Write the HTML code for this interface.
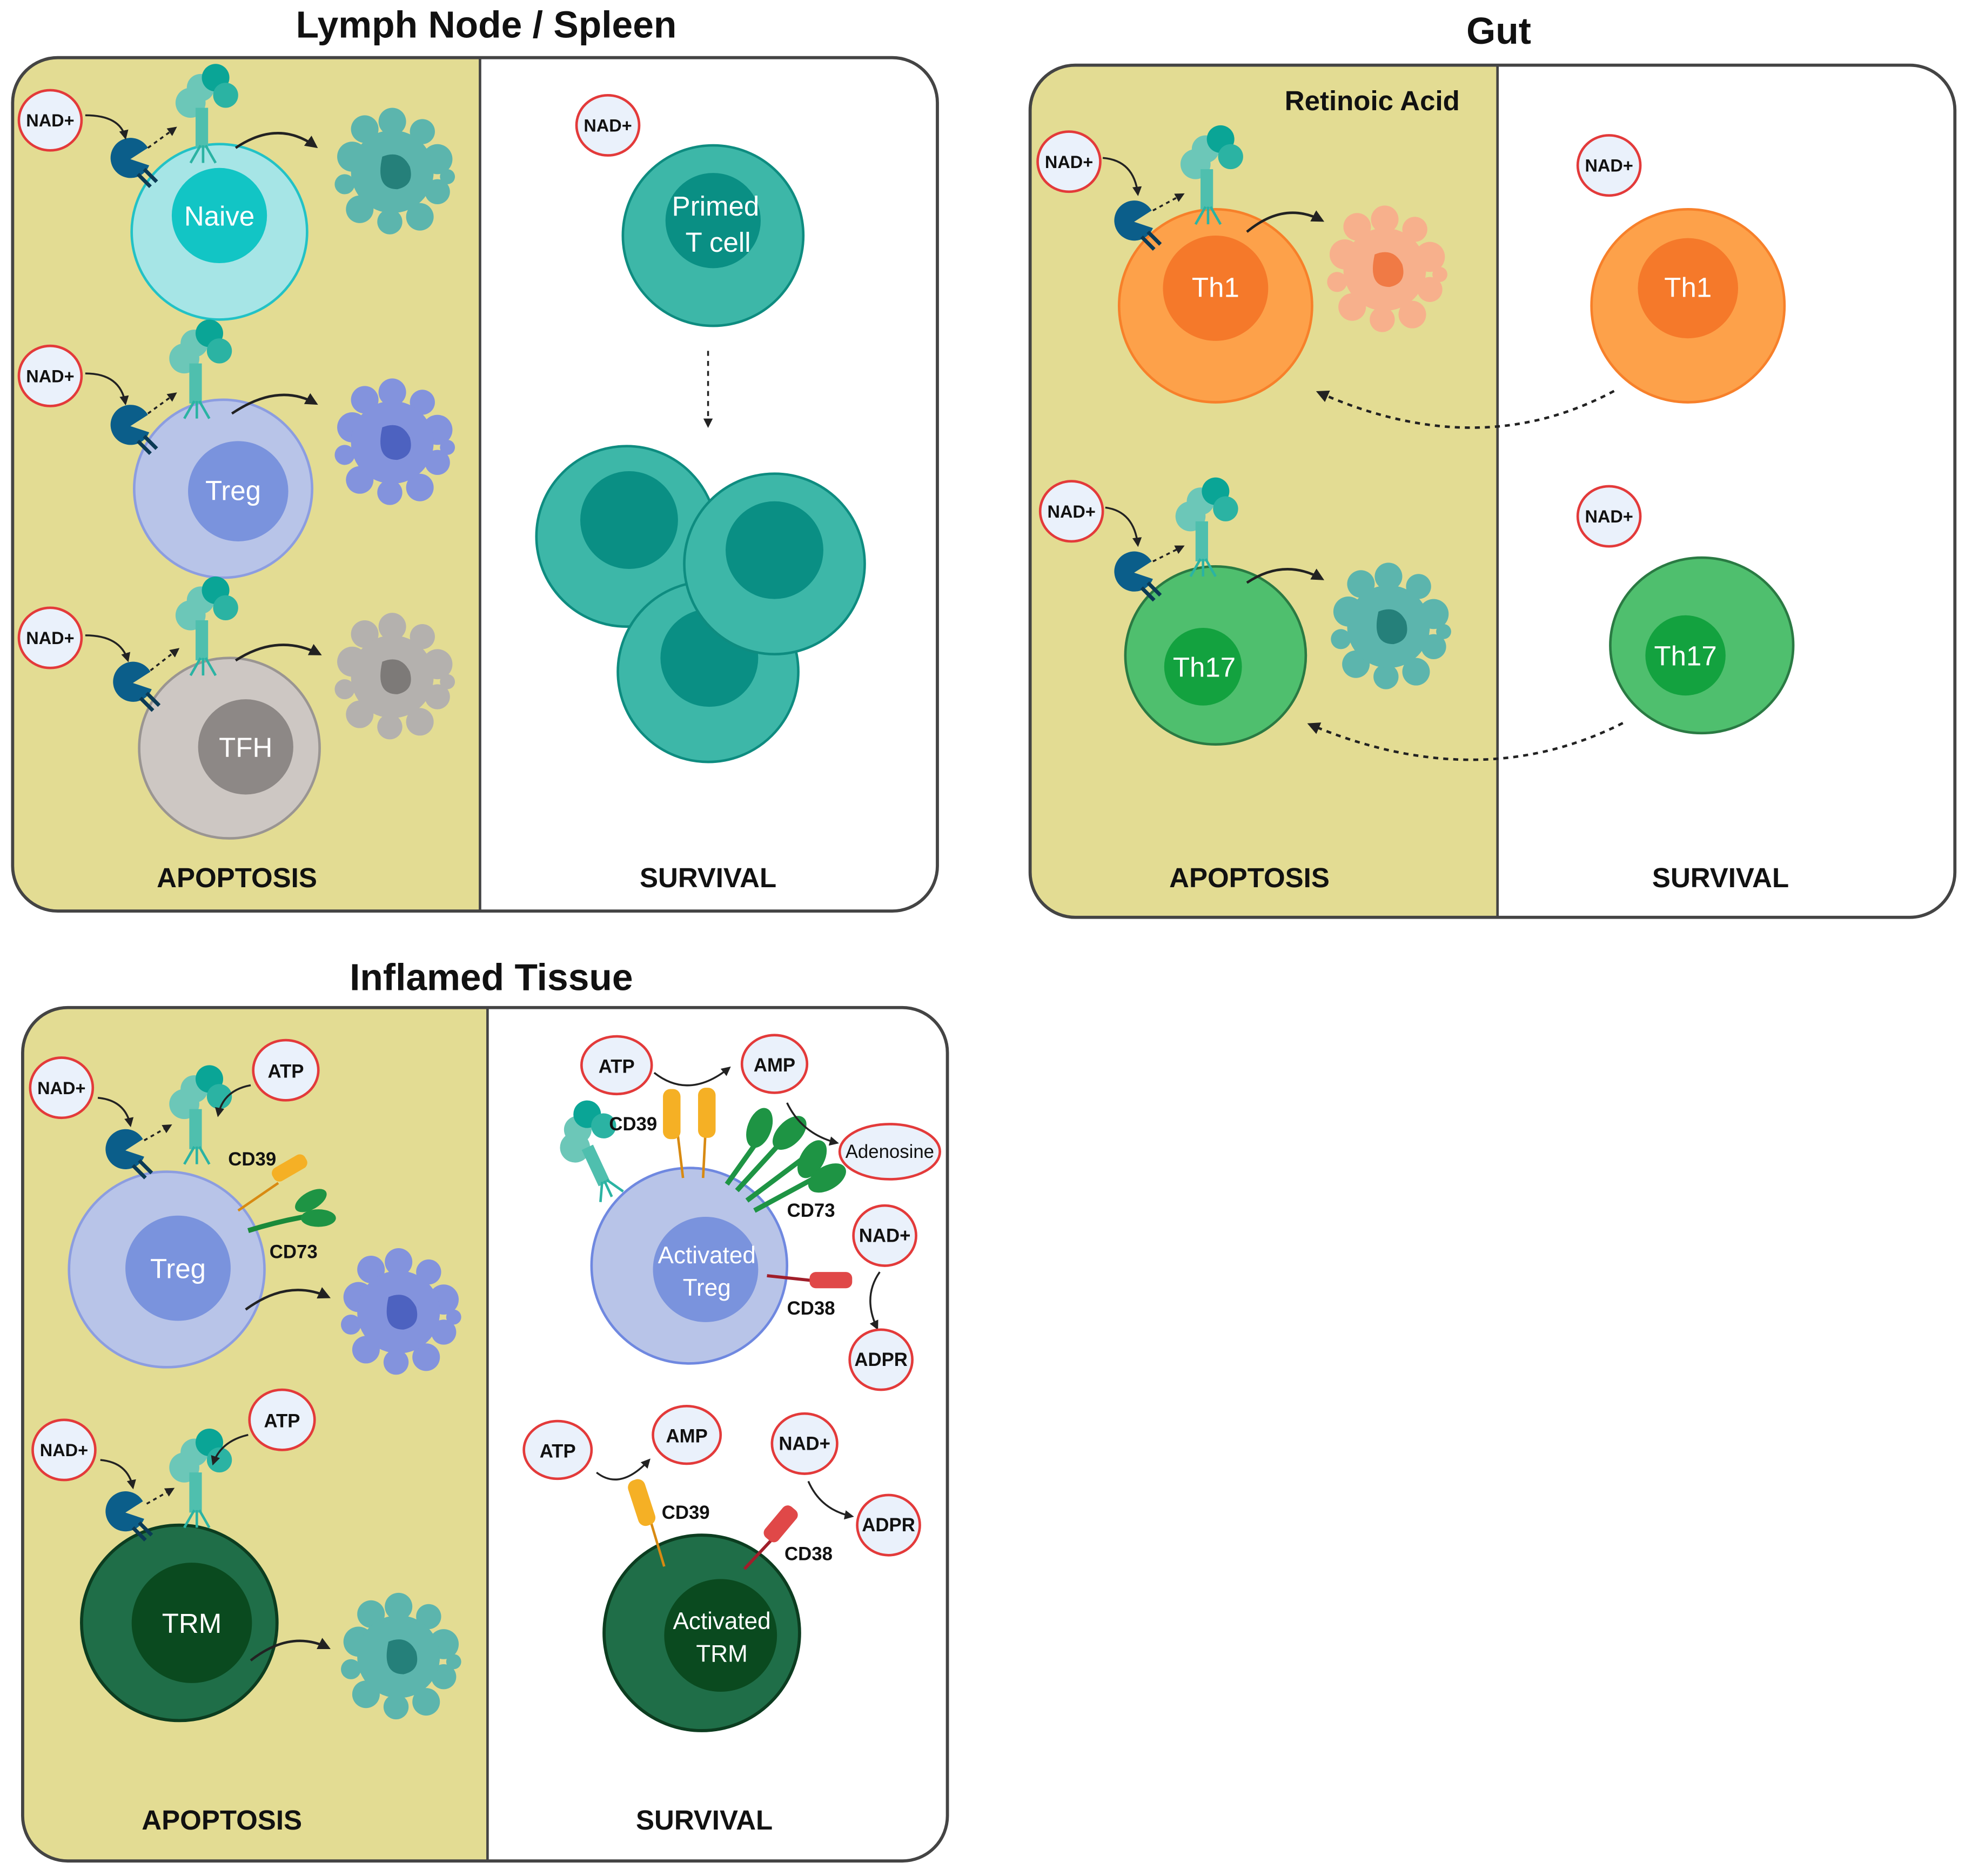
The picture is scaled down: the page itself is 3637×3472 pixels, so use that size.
<!DOCTYPE html>
<html><head><meta charset="utf-8">
<style>
html,body{margin:0;padding:0;background:#fff;}
svg{display:block;}
text{font-family:"Liberation Sans",sans-serif;}
.t{font-weight:bold;font-size:30px;text-anchor:middle;fill:#111;}
.lab{font-weight:bold;font-size:22px;text-anchor:middle;fill:#111;}
.cl{font-size:22px;text-anchor:middle;fill:#fff;}
.bt{font-weight:bold;font-size:14px;text-anchor:middle;fill:#111;}
.cd{font-weight:bold;font-size:15px;fill:#111;}
</style></head>
<body>
<svg width="3637" height="3472" viewBox="0 0 1568 1497" xmlns="http://www.w3.org/2000/svg">
<defs>
<marker id="ah" viewBox="0 0 10 10" refX="8" refY="5" markerWidth="5" markerHeight="5" orient="auto"><path d="M0,0 L10,5 L0,10 Z" fill="#222"/></marker>
<clipPath id="c1"><rect x="10" y="46" width="738" height="681" rx="36"/></clipPath>
<clipPath id="c2"><rect x="822" y="52" width="738" height="680" rx="36"/></clipPath>
<clipPath id="c3"><rect x="18" y="804" width="738" height="681" rx="36"/></clipPath>
<g id="rec">
  <circle cx="0" cy="-26" r="11" fill="#6cc7b8"/>
  <circle cx="12" cy="-34" r="11" fill="#0aa596"/>
  <circle cx="-8" cy="-14" r="12" fill="#6cc7b8"/>
  <circle cx="20" cy="-20" r="10" fill="#2bb3a3"/>
  <path d="M-4,-10 L6,-10 L6,22 L-4,22 Z" fill="#4fbfae"/>
  <path d="M0,20 L-8,34 M2,20 L2,34 M4,20 L12,34" stroke="#2bb3a3" stroke-width="2" fill="none"/>
</g>
<g id="pac">
  <path d="M0,0 L14,-9 A16,16 0 1 0 15,5 Z" fill="#0b5e8a"/>
  <path d="M6,12 L16,22 M11,8 L21,18" stroke="#0b3a55" stroke-width="3"/>
</g>
<g id="blob">
  <circle cx="-32" cy="-12" r="12"/><circle cx="-22" cy="-34" r="11"/><circle cx="0" cy="-40" r="11"/>
  <circle cx="24" cy="-32" r="10"/><circle cx="36" cy="-10" r="12"/><circle cx="36" cy="16" r="10"/>
  <circle cx="22" cy="36" r="11"/><circle cx="-2" cy="40" r="10"/><circle cx="-26" cy="30" r="11"/>
  <circle cx="-38" cy="10" r="8"/><circle cx="44" cy="4" r="6"/>
  <circle cx="0" cy="0" r="33"/>
</g>
</defs>

<!-- Panel 1 -->
<text class="t" x="388" y="30">Lymph Node / Spleen</text>
<g clip-path="url(#c1)"><rect x="10" y="46" width="738" height="681" fill="#fff"/><rect x="10" y="46" width="373" height="681" fill="#e3dc93"/></g>
<line x1="383" y1="46" x2="383" y2="727" stroke="#444" stroke-width="2"/>
<rect x="10" y="46" width="738" height="681" rx="36" fill="none" stroke="#444" stroke-width="2.5"/>
<text class="lab" x="189" y="708">APOPTOSIS</text>
<text class="lab" x="565" y="708">SURVIVAL</text>

<circle cx="175" cy="185" r="70" fill="#a6e5e6" stroke="#22c2c6" stroke-width="2"/>
<circle cx="175" cy="172" r="38" fill="#12c5c5"/><text class="cl" x="175" y="180">Naive</text>
<circle cx="178" cy="390" r="71" fill="#b8c4e8" stroke="#8c9de0" stroke-width="2"/>
<circle cx="190" cy="392" r="40" fill="#7a93dd"/><text class="cl" x="186" y="399">Treg</text>
<circle cx="183" cy="597" r="72" fill="#cdc7c3" stroke="#9a9592" stroke-width="2"/>
<circle cx="196" cy="596" r="38" fill="#8d8886"/><text class="cl" x="196" y="604">TFH</text>

<g fill="#5cb5ad"><use href="#blob" transform="translate(313,137)"/></g><path d="M305,125 q15,-6 22,8 q4,15 -10,18 q-18,0 -12,-26Z" fill="#25807a"/>
<g fill="#8393dd"><use href="#blob" transform="translate(313,353)"/></g><path d="M305,341 q15,-6 22,8 q4,15 -10,18 q-18,0 -12,-26Z" fill="#4d62c0"/>
<g fill="#b4b1ae"><use href="#blob" transform="translate(313,540)"/></g><path d="M305,528 q15,-6 22,8 q4,15 -10,18 q-18,0 -12,-26Z" fill="#7d7a78"/>

<!-- activation motifs panel1 -->
<g>
<use href="#pac" transform="translate(104,127)"/><use href="#rec" transform="translate(160,96)"/>
<path d="M68,92 Q96,92 100,110" fill="none" stroke="#222" stroke-width="1.5" marker-end="url(#ah)"/>
<path d="M118,118 L140,102" stroke="#222" stroke-width="1.5" stroke-dasharray="3,3" marker-end="url(#ah)"/>
<path d="M188,118 Q222,95 252,117" fill="none" stroke="#222" stroke-width="2" marker-end="url(#ah)"/>
</g>
<g>
<use href="#pac" transform="translate(104,340)"/><use href="#rec" transform="translate(155,300)"/>
<path d="M68,298 Q96,298 100,322" fill="none" stroke="#222" stroke-width="1.5" marker-end="url(#ah)"/>
<path d="M118,330 L140,314" stroke="#222" stroke-width="1.5" stroke-dasharray="3,3" marker-end="url(#ah)"/>
<path d="M185,330 Q222,305 252,322" fill="none" stroke="#222" stroke-width="2" marker-end="url(#ah)"/>
</g>
<g>
<use href="#pac" transform="translate(106,545)"/><use href="#rec" transform="translate(160,505)"/>
<path d="M68,507 Q96,507 102,527" fill="none" stroke="#222" stroke-width="1.5" marker-end="url(#ah)"/>
<path d="M120,535 L142,518" stroke="#222" stroke-width="1.5" stroke-dasharray="3,3" marker-end="url(#ah)"/>
<path d="M188,527 Q222,505 255,522" fill="none" stroke="#222" stroke-width="2" marker-end="url(#ah)"/>
</g>

<circle cx="569" cy="188" r="72" fill="#3db7a8" stroke="#0e8c80" stroke-width="2"/>
<circle cx="569" cy="176" r="38" fill="#0a8f84"/>
<text class="cl" x="571" y="172">Primed</text><text class="cl" x="573" y="201">T cell</text>
<path d="M565,280 L565,340" stroke="#222" stroke-width="1.5" stroke-dasharray="4,4" marker-end="url(#ah)"/>
<circle cx="500" cy="428" r="72" fill="#3db7a8" stroke="#0e8c80" stroke-width="2"/><circle cx="502" cy="415" r="39" fill="#0a8f84"/>
<circle cx="565" cy="536" r="72" fill="#3db7a8" stroke="#0e8c80" stroke-width="2"/><circle cx="566" cy="525" r="39" fill="#0a8f84"/>
<circle cx="618" cy="450" r="72" fill="#3db7a8" stroke="#0e8c80" stroke-width="2"/><circle cx="618" cy="439" r="39" fill="#0a8f84"/>

<!-- Panel 2 -->
<text class="t" x="1196" y="35">Gut</text>
<g clip-path="url(#c2)"><rect x="822" y="52" width="738" height="680" fill="#fff"/><rect x="822" y="52" width="373" height="680" fill="#e3dc93"/></g>
<line x1="1195" y1="52" x2="1195" y2="732" stroke="#444" stroke-width="2"/>
<rect x="822" y="52" width="738" height="680" rx="36" fill="none" stroke="#444" stroke-width="2.5"/>
<text class="lab" x="1095" y="88">Retinoic Acid</text>
<text class="lab" x="997" y="708">APOPTOSIS</text>
<text class="lab" x="1373" y="708">SURVIVAL</text>

<circle cx="970" cy="244" r="77" fill="#fda14a" stroke="#f7802a" stroke-width="2"/><circle cx="970" cy="230" r="42" fill="#f5792a"/><text class="cl" x="970" y="237">Th1</text>
<circle cx="1347" cy="244" r="77" fill="#fda14a" stroke="#f7802a" stroke-width="2"/><circle cx="1347" cy="230" r="40" fill="#f5792a"/><text class="cl" x="1347" y="237">Th1</text>
<ellipse cx="970" cy="523" rx="72" ry="71" fill="#4fbf6e" stroke="#2a7a43" stroke-width="2"/><circle cx="960" cy="532" r="31" fill="#13a23f"/><text class="cl" x="961" y="540">Th17</text>
<ellipse cx="1358" cy="515" rx="73" ry="70" fill="#4fbf6e" stroke="#2a7a43" stroke-width="2"/><circle cx="1345" cy="523" r="32" fill="#13a23f"/><text class="cl" x="1345" y="531">Th17</text>

<g fill="#f7b08c"><use href="#blob" transform="translate(1105,215)"/></g><path d="M1097,203 q15,-6 22,8 q4,15 -10,18 q-18,0 -12,-26Z" fill="#f07a45"/>
<g fill="#5cb5ad"><use href="#blob" transform="translate(1108,500)"/></g><path d="M1100,488 q15,-6 22,8 q4,15 -10,18 q-18,0 -12,-26Z" fill="#25807a"/>

<g>
<use href="#pac" transform="translate(905,177)"/><use href="#rec" transform="translate(962,145)"/>
<path d="M880,126 Q905,128 908,155" fill="none" stroke="#222" stroke-width="1.5" marker-end="url(#ah)"/>
<path d="M920,168 L944,155" stroke="#222" stroke-width="1.5" stroke-dasharray="3,3" marker-end="url(#ah)"/>
<path d="M995,185 Q1025,160 1055,176" fill="none" stroke="#222" stroke-width="2" marker-end="url(#ah)"/>
</g>
<g>
<use href="#pac" transform="translate(905,457)"/><use href="#rec" transform="translate(958,426)"/>
<path d="M882,405 Q905,408 908,435" fill="none" stroke="#222" stroke-width="1.5" marker-end="url(#ah)"/>
<path d="M920,448 L944,436" stroke="#222" stroke-width="1.5" stroke-dasharray="3,3" marker-end="url(#ah)"/>
<path d="M995,465 Q1025,445 1055,462" fill="none" stroke="#222" stroke-width="2" marker-end="url(#ah)"/>
</g>
<path d="M1288,312 Q1180,370 1052,313" fill="none" stroke="#222" stroke-width="2" stroke-dasharray="4,4" marker-end="url(#ah)"/>
<path d="M1295,577 Q1180,635 1045,578" fill="none" stroke="#222" stroke-width="2" stroke-dasharray="4,4" marker-end="url(#ah)"/>

<!-- Panel 3 -->
<text class="t" x="392" y="790">Inflamed Tissue</text>
<g clip-path="url(#c3)"><rect x="18" y="804" width="738" height="681" fill="#fff"/><rect x="18" y="804" width="371" height="681" fill="#e3dc93"/></g>
<line x1="389" y1="804" x2="389" y2="1485" stroke="#444" stroke-width="2"/>
<rect x="18" y="804" width="738" height="681" rx="36" fill="none" stroke="#444" stroke-width="2.5"/>
<text class="lab" x="177" y="1460">APOPTOSIS</text>
<text class="lab" x="562" y="1460">SURVIVAL</text>

<circle cx="133" cy="1013" r="78" fill="#b8c4e8" stroke="#8c9de0" stroke-width="2"/><circle cx="142" cy="1012" r="42" fill="#7a93dd"/><text class="cl" x="142" y="1020">Treg</text>
<circle cx="143" cy="1295" r="78" fill="#1f6e48" stroke="#0c3d20" stroke-width="2.5"/><circle cx="153" cy="1295" r="48" fill="#0a4a1f"/><text class="cl" x="153" y="1303">TRM</text>
<g fill="#8393dd"><use href="#blob" transform="translate(318,1047)"/></g><path d="M310,1035 q15,-6 22,8 q4,15 -10,18 q-18,0 -12,-26Z" fill="#4d62c0"/>
<g fill="#5cb5ad"><use href="#blob" transform="translate(318,1322)"/></g><path d="M310,1310 q15,-6 22,8 q4,15 -10,18 q-18,0 -12,-26Z" fill="#25807a"/>

<g>
<use href="#pac" transform="translate(100,918)"/><use href="#rec" transform="translate(155,895)"/>
<path d="M78,876 Q100,878 104,898" fill="none" stroke="#222" stroke-width="1.5" marker-end="url(#ah)"/>
<path d="M115,910 L136,898" stroke="#222" stroke-width="1.5" stroke-dasharray="3,3" marker-end="url(#ah)"/>
<path d="M200,866 Q178,870 174,890" fill="none" stroke="#222" stroke-width="1.5" marker-end="url(#ah)"/>
<path d="M190,966 L222,944" stroke="#d88a12" stroke-width="2"/><rect x="216" y="926" width="30" height="12" rx="5" fill="#f5b025" transform="rotate(-30 231 932)"/>
<path d="M198,982 Q230,972 262,968" stroke="#1a8a3a" stroke-width="4" fill="none"/><ellipse cx="248" cy="958" rx="14" ry="7" fill="#1e9444" transform="rotate(-30 248 958)"/><ellipse cx="254" cy="972" rx="14" ry="7" fill="#1e9444"/>
<text class="cd" x="182" y="930">CD39</text><text class="cd" x="215" y="1004">CD73</text>
<path d="M196,1045 Q230,1020 262,1035" fill="none" stroke="#222" stroke-width="2" marker-end="url(#ah)"/>
</g>
<g>
<use href="#pac" transform="translate(100,1207)"/><use href="#rec" transform="translate(155,1185)"/>
<path d="M80,1165 Q102,1167 106,1187" fill="none" stroke="#222" stroke-width="1.5" marker-end="url(#ah)"/>
<path d="M117,1200 L138,1188" stroke="#222" stroke-width="1.5" stroke-dasharray="3,3" marker-end="url(#ah)"/>
<path d="M198,1145 Q176,1150 170,1168" fill="none" stroke="#222" stroke-width="1.5" marker-end="url(#ah)"/>
<path d="M200,1325 Q232,1300 262,1315" fill="none" stroke="#222" stroke-width="2" marker-end="url(#ah)"/>
</g>

<!-- Activated Treg -->
<circle cx="550" cy="1010" r="78" fill="#b8c4e8" stroke="#6f88e0" stroke-width="2"/><circle cx="563" cy="1013" r="42" fill="#7a93dd"/>
<text class="cl" x="564" y="1008" style="font-size:19px">Activated</text><text class="cl" x="564" y="1034" style="font-size:19px">Treg</text>
<use href="#rec" transform="translate(472,925) rotate(-25)"/>
<line x1="545" y1="940" x2="538" y2="882" stroke="#d88a12" stroke-width="2"/><rect x="529" y="869" width="14" height="40" rx="6" fill="#f5b025"/>
<line x1="561" y1="940" x2="564" y2="882" stroke="#d88a12" stroke-width="2"/><rect x="557" y="868" width="14" height="40" rx="6" fill="#f5b025"/>
<g fill="#1e9444" stroke="#1e9444">
<line x1="580" y1="945" x2="612" y2="900" stroke-width="4"/><ellipse cx="606" cy="900" rx="9" ry="16" transform="rotate(20 606 900)"/>
<line x1="588" y1="950" x2="620" y2="915" stroke-width="4"/><ellipse cx="630" cy="904" rx="9" ry="16" transform="rotate(45 630 904)"/>
<line x1="596" y1="958" x2="640" y2="925" stroke-width="4"/><ellipse cx="648" cy="925" rx="9" ry="16" transform="rotate(30 648 925)"/>
<line x1="602" y1="966" x2="650" y2="940" stroke-width="4"/><ellipse cx="660" cy="940" rx="9" ry="16" transform="rotate(60 660 940)"/>
</g>
<line x1="612" y1="1018" x2="650" y2="1022" stroke="#a01e2a" stroke-width="2.5"/><rect x="646" y="1015" width="34" height="13" rx="5" fill="#e04848"/>
<text class="cd" x="486" y="902">CD39</text><text class="cd" x="628" y="971">CD73</text><text class="cd" x="628" y="1049">CD38</text>
<path d="M522,856 Q550,878 582,852" fill="none" stroke="#222" stroke-width="1.5" marker-end="url(#ah)"/>
<path d="M628,880 Q640,905 668,912" fill="none" stroke="#222" stroke-width="1.5" marker-end="url(#ah)"/>
<path d="M702,1015 Q688,1035 700,1060" fill="none" stroke="#222" stroke-width="1.5" marker-end="url(#ah)"/>

<!-- Activated TRM -->
<circle cx="560" cy="1303" r="78" fill="#1f6e48" stroke="#0c3d20" stroke-width="2.5"/><circle cx="575" cy="1305" r="45" fill="#0a4a1f"/>
<text class="cl" x="576" y="1300" style="font-size:19px">Activated</text><text class="cl" x="576" y="1326" style="font-size:19px">TRM</text>
<line x1="530" y1="1250" x2="515" y2="1200" stroke="#d88a12" stroke-width="2"/><rect x="505" y="1180" width="14" height="38" rx="6" fill="#f5b025" transform="rotate(-18 512 1199)"/>
<line x1="594" y1="1252" x2="622" y2="1222" stroke="#a01e2a" stroke-width="2.5"/><rect x="616" y="1200" width="14" height="32" rx="5" fill="#e04848" transform="rotate(40 623 1216)"/>
<text class="cd" x="528" y="1212">CD39</text><text class="cd" x="626" y="1245">CD38</text>
<path d="M476,1175 Q495,1190 518,1165" fill="none" stroke="#222" stroke-width="1.5" marker-end="url(#ah)"/>
<path d="M645,1182 Q655,1205 680,1210" fill="none" stroke="#222" stroke-width="1.5" marker-end="url(#ah)"/>

<!-- badges -->
<g fill="#eaf1fb" stroke="#e33a3a" stroke-width="2">
<ellipse cx="40" cy="96" rx="25" ry="24"/><ellipse cx="40" cy="300" rx="25" ry="24"/><ellipse cx="40" cy="509" rx="25" ry="24"/>
<ellipse cx="485" cy="100" rx="25" ry="24"/>
<ellipse cx="853" cy="129" rx="25" ry="24"/><ellipse cx="855" cy="408" rx="25" ry="24"/>
<ellipse cx="1284" cy="132" rx="25" ry="24"/><ellipse cx="1284" cy="412" rx="25" ry="24"/>
<ellipse cx="49" cy="868" rx="25" ry="24"/><ellipse cx="228" cy="854" rx="26" ry="24"/>
<ellipse cx="51" cy="1157" rx="25" ry="24"/><ellipse cx="225" cy="1133" rx="26" ry="24"/>
<ellipse cx="492" cy="850" rx="28" ry="23"/><ellipse cx="618" cy="849" rx="26" ry="23"/>
<ellipse cx="710" cy="919" rx="40" ry="22"/><ellipse cx="706" cy="986" rx="25" ry="24"/><ellipse cx="703" cy="1085" rx="25" ry="24"/>
<ellipse cx="445" cy="1157" rx="27" ry="23"/><ellipse cx="548" cy="1145" rx="27" ry="23"/>
<ellipse cx="642" cy="1152" rx="26" ry="24"/><ellipse cx="709" cy="1217" rx="25" ry="24"/>
</g>
<g class="bt">
<text class="bt" x="40" y="101">NAD+</text><text class="bt" x="40" y="305">NAD+</text><text class="bt" x="40" y="514">NAD+</text>
<text class="bt" x="485" y="105">NAD+</text>
<text class="bt" x="853" y="134">NAD+</text><text class="bt" x="855" y="413">NAD+</text>
<text class="bt" x="1284" y="137">NAD+</text><text class="bt" x="1284" y="417">NAD+</text>
<text class="bt" x="49" y="873">NAD+</text><text class="bt" x="228" y="860" style="font-size:15px">ATP</text>
<text class="bt" x="51" y="1162">NAD+</text><text class="bt" x="225" y="1139" style="font-size:15px">ATP</text>
<text class="bt" x="492" y="856" style="font-size:15px">ATP</text><text class="bt" x="618" y="855" style="font-size:15px">AMP</text>
<text class="bt" x="710" y="924" style="font-weight:normal;font-size:15px">Adenosine</text>
<text class="bt" x="706" y="991" style="font-size:15px">NAD+</text><text class="bt" x="703" y="1090" style="font-size:15px">ADPR</text>
<text class="bt" x="445" y="1163" style="font-size:15px">ATP</text><text class="bt" x="548" y="1151" style="font-size:15px">AMP</text>
<text class="bt" x="642" y="1157" style="font-size:15px">NAD+</text><text class="bt" x="709" y="1222" style="font-size:15px">ADPR</text>
</g>
</svg>
</body></html>
